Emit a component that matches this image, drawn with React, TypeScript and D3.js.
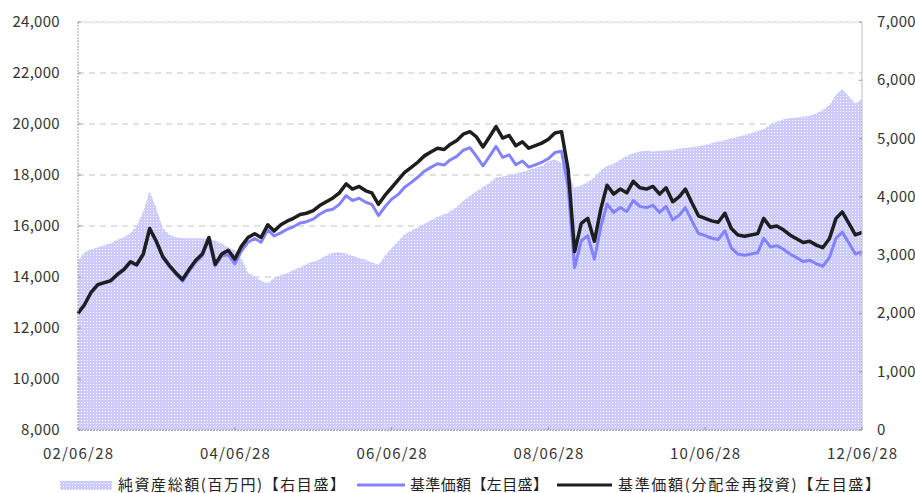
import React from "react";
import * as d3 from "d3";

// Monthly samples from 2002-06-28 to 2012-06-28
const startDate = "2002-06-28";

// 基準価額(分配金再投資) – left axis (yen)
const reinvested = [
  12580, 12910, 13400, 13700, 13780, 13860, 14100, 14300, 14600, 14480,
  14900, 15900, 15400, 14800, 14450, 14150, 13900, 14300, 14650, 14900,
  15550, 14500, 14900, 15050, 14700, 15200, 15550, 15700, 15550, 16050,
  15800, 16050, 16200, 16300, 16450, 16500, 16600, 16800, 16950, 17100,
  17300, 17650, 17450, 17550, 17380, 17300, 16850, 17200, 17500, 17800,
  18100, 18300, 18500, 18750, 18900, 19050, 19000, 19200, 19350, 19600,
  19700, 19500, 19100, 19500, 19900, 19450, 19550, 19150, 19300, 19050,
  19150, 19250, 19400, 19650, 19700, 18200, 15000, 16100, 16300, 15400,
  16700, 17600, 17250, 17450, 17300, 17750, 17500, 17450, 17550, 17250,
  17500, 16950, 17150, 17450, 16900, 16400, 16300, 16200, 16150, 16500,
  15900, 15650, 15600, 15650, 15700, 16300, 15950, 16000, 15850, 15650,
  15500, 15350, 15400, 15250, 15150, 15500, 16300, 16550, 16100, 15650,
  15750,
];

// 基準価額 – left axis (yen)
const navPrice = [
  12560, 12890, 13380, 13680, 13760, 13840, 14070, 14270, 14570, 14450,
  14860, 15860, 15360, 14760, 14410, 14110, 13830, 14230, 14580, 14830,
  15470, 14430, 14830, 14870, 14520, 15020, 15360, 15510, 15360, 15860,
  15610, 15730, 15880, 15970, 16120, 16170, 16270, 16460, 16610, 16660,
  16850, 17190, 17000, 17090, 16930, 16850, 16410, 16750, 17050, 17230,
  17520, 17710, 17910, 18150, 18300, 18440, 18390, 18590, 18730, 18970,
  19070, 18740, 18360, 18740, 19120, 18690, 18790, 18400, 18550, 18310,
  18400, 18500, 18640, 18880, 18930, 17490, 14370, 15420, 15620, 14700,
  16000, 16860, 16530, 16720, 16570, 17000, 16770, 16720, 16810, 16530,
  16770, 16240, 16430, 16720, 16190, 15710, 15620, 15520, 15470, 15810,
  15140, 14900, 14850, 14900, 14950, 15520, 15180, 15230, 15090, 14900,
  14760, 14610, 14660, 14520, 14420, 14760, 15520, 15760, 15330, 14900,
  14990,
];

// 純資産総額(百万円) – right axis
const netAssets = [
  2900, 3050, 3100, 3130, 3170, 3210, 3260, 3310, 3380, 3500,
  3750, 4100, 3800, 3470, 3350, 3310, 3290, 3290, 3290, 3290,
  3280, 3250, 3200, 3130, 3090, 2950, 2700, 2640, 2560, 2510,
  2610, 2660, 2690, 2750, 2790, 2850, 2890, 2930, 3000, 3040,
  3050, 3030, 2990, 2950, 2920, 2880, 2830, 2990, 3120, 3240,
  3360, 3420, 3480, 3540, 3600, 3660, 3700, 3750, 3830, 3930,
  4020, 4090, 4170, 4240, 4330, 4350, 4370, 4400, 4430, 4460,
  4500, 4530, 4610, 4640, 4580, 4420, 4150, 4200, 4250, 4330,
  4460, 4530, 4570, 4640, 4700, 4750, 4780, 4790, 4780, 4790,
  4800, 4810, 4830, 4840, 4860, 4870, 4890, 4920, 4950, 4970,
  5000, 5030, 5060, 5090, 5130, 5160, 5240, 5290, 5330, 5350,
  5360, 5380, 5390, 5430, 5490, 5580, 5750, 5850, 5720, 5600,
  5680,
];

const leftTicks = [8000, 10000, 12000, 14000, 16000, 18000, 20000, 22000, 24000];
const rightTicks = [0, 1000, 2000, 3000, 4000, 5000, 6000, 7000];
const xTickDates = ["2002-06-28", "2004-06-28", "2006-06-28", "2008-06-28", "2010-06-28", "2012-06-28"];

const legendLabels = [
  "純資産総額(百万円)【右目盛】",
  "基準価額【左目盛】",
  "基準価額(分配金再投資)【左目盛】",
];

const W = 915;
const H = 493;
const L = 78;
const R = 862;
const T = 22;
const B = 430;
const FONT = "'Noto Sans CJK JP', 'Liberation Sans', sans-serif";

export default function App() {
  const parse = d3.timeParse("%Y-%m-%d");
  const start = parse(startDate) as Date;
  const dates = reinvested.map((_, i) => d3.timeMonth.offset(start, i));
  const x = d3.scaleTime().domain([start, parse("2012-06-28") as Date]).range([L, R]);
  const yL = d3.scaleLinear().domain([8000, 24000]).range([B, T]);
  const yR = d3.scaleLinear().domain([0, 7000]).range([B, T]);
  const fmt = d3.format(",");
  const dfmt = d3.timeFormat("%y/%m/%d");

  const area = d3
    .area<number>()
    .x((_, i) => x(dates[i]))
    .y0(yR(0))
    .y1((d) => yR(d));
  const lineL = d3
    .line<number>()
    .x((_, i) => x(dates[i]))
    .y((d) => yL(d));

  return (
    <svg
      width={W}
      height={H}
      style={{ position: "absolute", left: 0, top: 0, background: "#fff" }}
      fontFamily={FONT}
    >
      <defs>
        <pattern id="dots" width="3" height="3" patternUnits="userSpaceOnUse">
          <rect width="3" height="3" fill="#cbcbff" />
          <rect x="0" y="0" width="1" height="1" fill="#ffffff" />
        </pattern>
      </defs>

      {/* grid lines */}
      {leftTicks.map((t) => (
        <line
          key={t}
          x1={L}
          x2={R}
          y1={yL(t)}
          y2={yL(t)}
          stroke={t === 8000 ? "#999" : "#c4c4c4"}
          strokeWidth={1}
          strokeDasharray={t === 8000 || t === 24000 ? "2,1" : "6,5"}
        />
      ))}

      {/* area */}
      <path d={area(netAssets) || ""} fill="url(#dots)" />

      {/* lines */}
      <path d={lineL(navPrice) || ""} fill="none" stroke="#8383ff" strokeWidth={3} strokeLinejoin="round" />
      <path d={lineL(reinvested) || ""} fill="none" stroke="#1e1e1e" strokeWidth={3.5} strokeLinejoin="round" />

      {/* axes lines */}
      <line x1={L} x2={L} y1={T} y2={B} stroke="#999" strokeDasharray="2,1" />
      <line x1={R} x2={R} y1={T} y2={B} stroke="#bbb" />
      <line x1={L} x2={R} y1={B} y2={B} stroke="#999" strokeDasharray="2,1" />

      {/* left ticks */}
      {leftTicks.map((t) => (
        <g key={"l" + t}>
          <line x1={L} x2={L + 3} y1={yL(t)} y2={yL(t)} stroke="#999" />
          <text x={60} y={yL(t) + 5} textAnchor="end" fontSize={15} letterSpacing={0.3} fill="#333">
            {fmt(t)}
          </text>
        </g>
      ))}

      {/* right ticks */}
      {rightTicks.map((t) => (
        <g key={"r" + t}>
          <line x1={R - 3} x2={R} y1={yR(t)} y2={yR(t)} stroke="#999" />
          <text x={877} y={yR(t) + 5} textAnchor="start" fontSize={15} letterSpacing={0.3} fill="#333">
            {fmt(t)}
          </text>
        </g>
      ))}

      {/* x ticks */}
      {xTickDates.map((s) => {
        const d = parse(s) as Date;
        return (
          <g key={s}>
            <line x1={x(d)} x2={x(d)} y1={B - 3} y2={B} stroke="#999" />
            <text
              x={x(d) - 35}
              y={459}
              textAnchor="start"
              fontSize={15}
              fill="#333"
              textLength={70}
              lengthAdjust="spacing"
            >
              {dfmt(d)}
            </text>
          </g>
        );
      })}

      {/* legend */}
      <rect x={60} y={481} width={52} height={9} fill="url(#dots)" />
      <text x={118} y={490} fontSize={15} fill="#222" textLength={227} lengthAdjust="spacing">
        {legendLabels[0]}
      </text>
      <line x1={357} x2={405} y1={485} y2={485} stroke="#8383ff" strokeWidth={3} />
      <text x={410} y={490} fontSize={15} fill="#222" textLength={138} lengthAdjust="spacing">
        {legendLabels[1]}
      </text>
      <line x1={557} x2={612} y1={485} y2={485} stroke="#1e1e1e" strokeWidth={3} />
      <text x={618} y={490} fontSize={15} fill="#222" textLength={262} lengthAdjust="spacing">
        {legendLabels[2]}
      </text>
    </svg>
  );
}
